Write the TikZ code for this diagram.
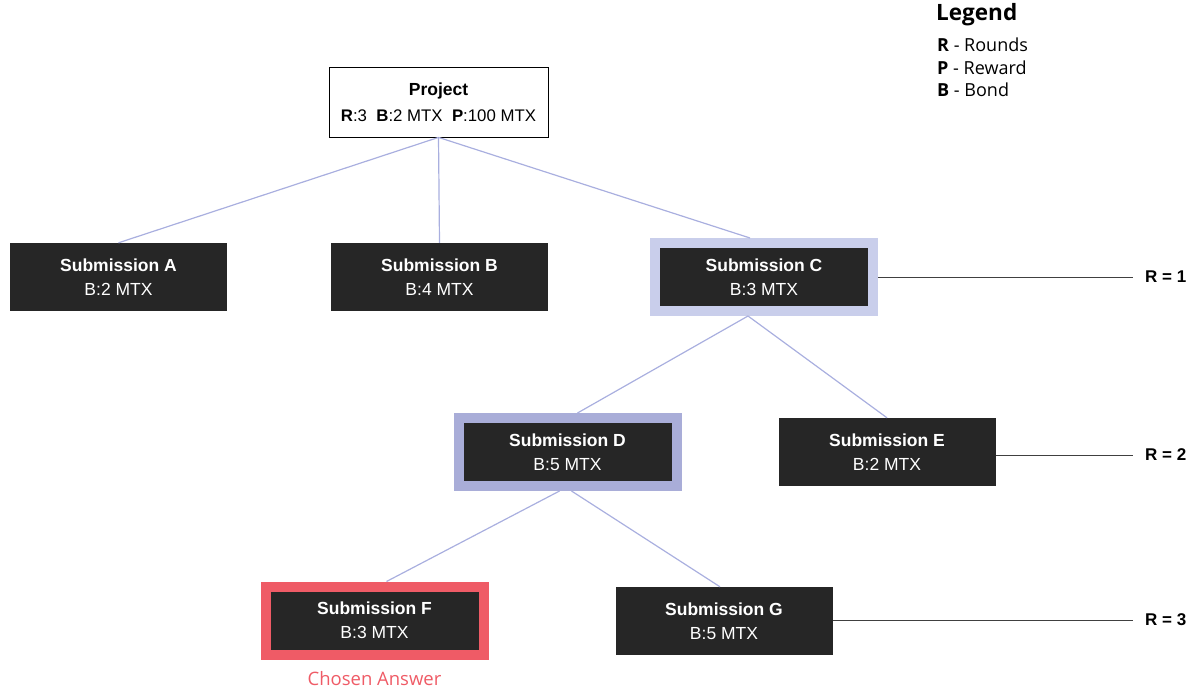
\documentclass[tikz,border=0pt]{standalone}
\usepackage{fontspec}
\setmainfont{Liberation Sans}
\newfontfamily\osans{Open Sans}
\definecolor{dark}{HTML}{262626}
\definecolor{edge}{HTML}{A9AFDF}
\definecolor{haloC}{HTML}{C9CEEB}
\definecolor{haloD}{HTML}{A9ADD8}
\definecolor{chosen}{HTML}{EF5B66}
\begin{document}
\begin{tikzpicture}[x=1pt,y=-1pt,
  sub/.style={fill=dark,text=white,minimum width=217pt,minimum height=68pt,inner sep=0pt,align=center,font=\fontsize{17.5}{24}\selectfont},
  halo/.style={draw=#1,line width=10pt,minimum width=218pt,minimum height=68pt,fill=dark,text=white,inner sep=0pt,align=center,font=\fontsize{17.5}{24}\selectfont},
  conn/.style={draw=edge,line width=1.2pt},
  rline/.style={draw=black!75,line width=0.8pt},
  rlab/.style={anchor=west,font=\fontsize{17}{18}\selectfont,inner sep=0pt}]
\useasboundingbox (0,0) rectangle (1199,691);
\node[draw=black,line width=0.8pt,fill=white,minimum width=219pt,minimum height=70pt,inner sep=0pt,align=center,font=\fontsize{17.5}{26}\selectfont] (P) at (438.5,102) {\textbf{Project}\\{\fontsize{16.8}{26}\selectfont\textbf{R}:3\ \ \textbf{B}:2 MTX\ \ \textbf{P}:100 MTX}};
\node[sub] (A) at (118.5,277) {\textbf{Submission A}\\B:2 MTX};
\node[sub] (B) at (439.5,277) {\textbf{Submission B}\\B:4 MTX};
\node[halo=haloC] (C) at (764,277) {\textbf{Submission C}\\B:3 MTX};
\node[halo=haloD] (D) at (567.5,452) {\textbf{Submission D}\\B:5 MTX};
\node[sub] (E) at (887,452) {\textbf{Submission E}\\B:2 MTX};
\node[halo=chosen] (F) at (374.5,620.5) {\textbf{Submission F}\\B:3 MTX};
\node[sub] (G) at (724,621) {\textbf{Submission G}\\B:5 MTX};
\node[text=chosen,font=\osans\fontsize{18.5}{20}\selectfont,inner sep=0pt] (ans) at (374.5,679) {Chosen Answer};
% edges
\draw[conn] (P.south) -- (A.north);
\draw[conn] (P.south) -- (B.north);
\draw[conn] (P.south) -- ([xshift=-14pt]C.north);
\draw[conn] ([xshift=-16pt]C.south) -- ([xshift=10pt]D.north);
\draw[conn] ([xshift=-16pt]C.south) -- (E.north);
\draw[conn] ([xshift=-8pt]D.south) -- ([xshift=12pt]F.north);
\draw[conn] ([xshift=4pt]D.south) -- ([xshift=-4pt]G.north);
% round labels
\node[rlab] (r1) at (1145,277) {\textbf{R = 1}};
\node[rlab] (r2) at (1145,455) {\textbf{R = 2}};
\node[rlab] (r3) at (1145,620) {\textbf{R = 3}};
\draw[rline] (C.east) -- ([xshift=-12pt]r1.west);
\draw[rline] (E.east|-r2.west) -- ([xshift=-12pt]r2.west);
\draw[rline] (G.east|-r3.west) -- ([xshift=-12pt]r3.west);
% legend
\node[anchor=west,inner sep=0pt,font=\osans\bfseries\fontsize{22.5}{24}\selectfont] (leg) at (936,15) {Legend};
\node[anchor=north west,inner sep=0pt,align=left,font=\osans\fontsize{18}{22.5}\selectfont] (legitems) at (937,38) {\textbf{R} - Rounds\\\textbf{P} - Reward\\\textbf{B} - Bond};
\end{tikzpicture}
\end{document}
